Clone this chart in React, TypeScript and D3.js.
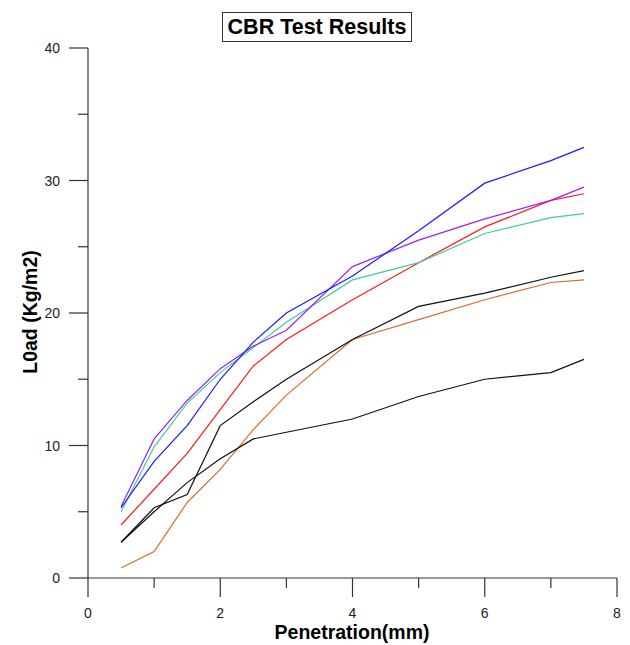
import React from "react";
import * as d3 from "d3";

const xValues = [0.5, 1, 1.5, 2, 2.5, 3, 4, 5, 6, 7, 7.5];
const seriesBlue = [5.3, 8.8, 11.5, 15.0, 17.8, 20.0, 22.8, 26.2, 29.8, 31.5, 32.5];
const seriesPurple = [5.4, 10.5, 13.4, 15.8, 17.5, 18.7, 23.5, 25.5, 27.1, 28.5, 29.5];
const seriesTeal = [5.0, 9.9, 13.2, 15.5, 17.4, 19.3, 22.5, 23.8, 26.0, 27.2, 27.5];
const seriesRed = [4.0, 6.7, 9.4, 12.7, 16.0, 18.0, 21.0, 23.8, 26.5, 28.5, 29.0];
const seriesBlackA = [2.7, 5.3, 6.3, 11.5, 13.3, 15.0, 18.0, 20.5, 21.5, 22.7, 23.2];
const seriesBlackB = [2.7, 5.0, 7.2, 9.0, 10.5, 11.0, 12.0, 13.7, 15.0, 15.5, 16.5];
const seriesOrange = [0.75, 2.0, 5.7, 8.2, 11.2, 13.8, 18.0, 19.5, 21.0, 22.3, 22.5];

const seriesList = [
  { values: seriesOrange, color: "#dd6a2c" },
  { values: seriesBlackB, color: "#111111" },
  { values: seriesBlackA, color: "#111111" },
  { values: seriesRed, color: "#ff1a1a" },
  { values: seriesTeal, color: "#3ccf9c" },
  { values: seriesPurple, color: "#a020f0" },
  { values: seriesBlue, color: "#1a1aff" },
];

const xTickLabels = [0, 2, 4, 6, 8];
const yTickLabels = [0, 10, 20, 30, 40];

export default function App() {
  const x = d3.scaleLinear().domain([0, 8]).range([88, 617]);
  const y = d3.scaleLinear().domain([0, 40]).range([578, 48]);
  const line = d3
    .line<number>()
    .x((_, i) => x(xValues[i]))
    .y((d) => y(d));

  const xMinor = d3.range(0, 9, 1);
  const yMinor = d3.range(0, 41, 5);
  const axisColor = "#333";

  return (
    <div style={{ position: "absolute", left: 0, top: 0 }}>
      <svg width={630} height={645} style={{ display: "block", fontFamily: "'Liberation Sans', Arial, sans-serif" }}>
        <rect x={0} y={0} width={630} height={645} fill="#fff" />
        {/* title */}
        <rect x={222.5} y={12.5} width={189} height={29} fill="#fff" stroke="#333" strokeWidth={1} />
        <text x={317} y={34} textAnchor="middle" fontSize={21.5} fontWeight="bold" fill="#000">
          CBR Test Results
        </text>

        {/* axes */}
        <line x1={x(0)} x2={x(0)} y1={y(40)} y2={y(0)} stroke={axisColor} strokeWidth={1.2} />
        <line x1={x(0)} x2={x(8)} y1={y(0)} y2={y(0)} stroke={axisColor} strokeWidth={1.2} />
        {xMinor.map((t) => (
          <line
            key={"xt" + t}
            x1={x(t)}
            x2={x(t)}
            y1={y(0)}
            y2={y(0) + (t % 2 === 0 ? 19 : 10)}
            stroke={axisColor}
            strokeWidth={1.2}
          />
        ))}
        {yMinor.map((t) => (
          <line
            key={"yt" + t}
            x1={x(0) - (t % 10 === 0 ? 19 : 10)}
            x2={x(0)}
            y1={y(t)}
            y2={y(t)}
            stroke={axisColor}
            strokeWidth={1.2}
          />
        ))}
        {xTickLabels.map((t) => (
          <text key={"xl" + t} x={x(t)} y={618} textAnchor="middle" fontSize={14} fill="#222">
            {t}
          </text>
        ))}
        {yTickLabels.map((t) => (
          <text key={"yl" + t} x={60} y={y(t) + 5} textAnchor="end" fontSize={14} fill="#222">
            {t}
          </text>
        ))}

        {/* axis titles */}
        <text x={352} y={639} textAnchor="middle" fontSize={19.5} fontWeight="bold" fill="#000">
          Penetration(mm)
        </text>
        <text
          transform={`translate(37,312) rotate(-90)`}
          textAnchor="middle"
          fontSize={19.5}
          fontWeight="bold"
          fill="#000"
        >
          L0ad (Kg/m2)
        </text>

        {/* series */}
        {seriesList.map((s, i) => (
          <path key={"s" + i} d={line(s.values) || ""} fill="none" stroke={s.color} strokeWidth={1.2} />
        ))}
      </svg>
    </div>
  );
}
